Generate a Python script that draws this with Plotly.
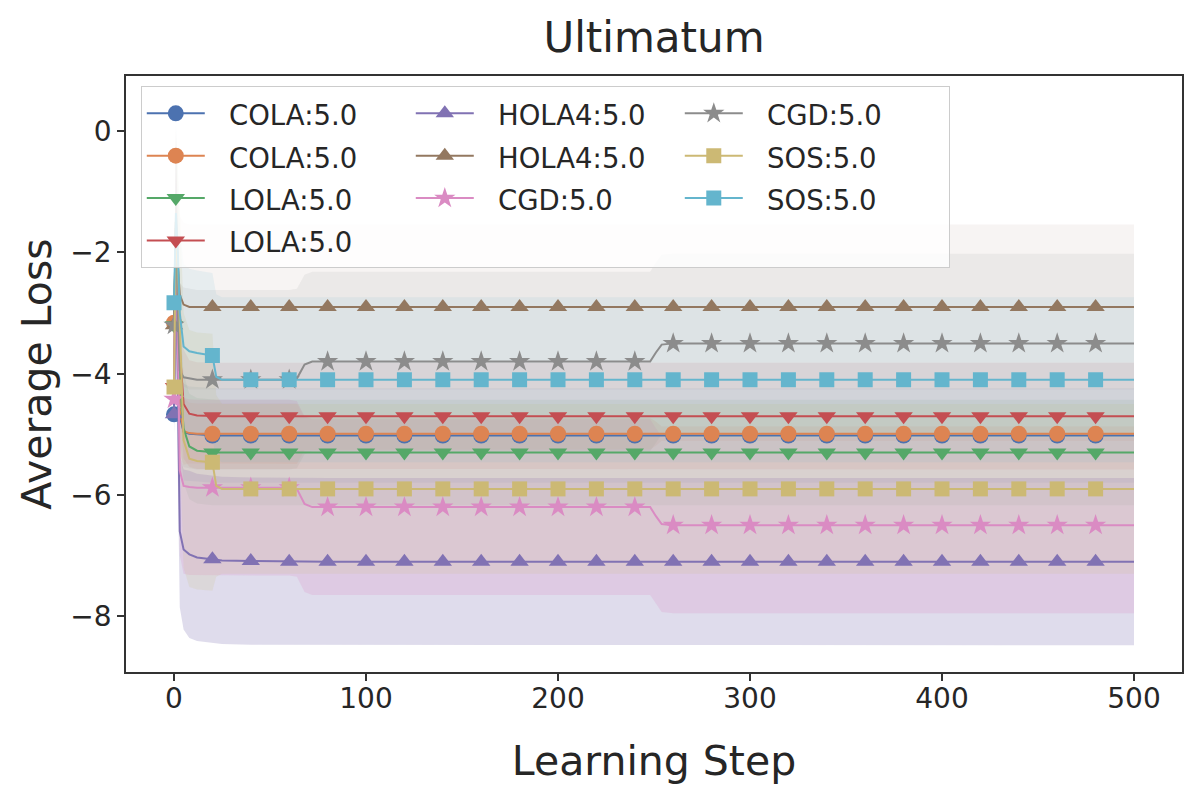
import plotly.graph_objects as go

# Learning steps at which the averaged curves are sampled
STEPS = [0, 1, 2, 3, 5, 8, 12, 20, 22, 25,
         40, 60, 64, 68, 72, 80, 100, 120, 140, 160, 180, 200, 220, 240, 248,
         251, 254, 260, 280, 300, 320, 340, 360, 380, 400, 420, 440, 460, 480, 500]

LABELS = ["COLA:5.0", "COLA:5.0", "LOLA:5.0", "LOLA:5.0", "HOLA4:5.0",
          "HOLA4:5.0", "CGD:5.0", "CGD:5.0", "SOS:5.0", "SOS:5.0"]

# mean loss per step
cola_1_mean = [-4.67, -1.6, -3.2, -4.7, -4.96, -4.99, -5.0, -5.02, -5.02, -5.02,
               -5.02, -5.02, -5.02, -5.02, -5.02, -5.02, -5.02, -5.02, -5.02, -5.02, -5.02, -5.02, -5.02, -5.02, -5.02,
               -5.02, -5.02, -5.02, -5.02, -5.02, -5.02, -5.02, -5.02, -5.02, -5.02, -5.02, -5.02, -5.02, -5.02, -5.02]
cola_2_mean = [-3.16, -1.5, -3.0, -4.6, -4.95, -4.98, -4.99, -4.99, -4.99, -4.99,
               -4.99, -4.99, -4.99, -4.99, -4.99, -4.99, -4.99, -4.99, -4.99, -4.99, -4.99, -4.99, -4.99, -4.99, -4.99,
               -4.99, -4.99, -4.99, -4.99, -4.99, -4.99, -4.99, -4.99, -4.99, -4.99, -4.99, -4.99, -4.99, -4.99, -4.99]
lola_1_mean = [-3.2, -1.7, -2.8, -4.0, -4.9, -5.2, -5.27, -5.3, -5.3, -5.3,
               -5.3, -5.3, -5.3, -5.3, -5.3, -5.3, -5.3, -5.3, -5.3, -5.3, -5.3, -5.3, -5.3, -5.3, -5.3,
               -5.3, -5.3, -5.3, -5.3, -5.3, -5.3, -5.3, -5.3, -5.3, -5.3, -5.3, -5.3, -5.3, -5.3, -5.3]
lola_2_mean = [-4.22, -1.8, -2.6, -3.6, -4.5, -4.66, -4.69, -4.7, -4.7, -4.7,
               -4.7, -4.7, -4.7, -4.7, -4.7, -4.7, -4.7, -4.7, -4.7, -4.7, -4.7, -4.7, -4.7, -4.7, -4.7,
               -4.7, -4.7, -4.7, -4.7, -4.7, -4.7, -4.7, -4.7, -4.7, -4.7, -4.7, -4.7, -4.7, -4.7, -4.7]
hola_1_mean = [-4.67, -1.9, -4.2, -6.6, -6.9, -6.98, -7.03, -7.06, -7.07, -7.08,
               -7.09, -7.1, -7.1, -7.1, -7.1, -7.1, -7.1, -7.1, -7.1, -7.1, -7.1, -7.1, -7.1, -7.1, -7.1,
               -7.1, -7.1, -7.1, -7.1, -7.1, -7.1, -7.1, -7.1, -7.1, -7.1, -7.1, -7.1, -7.1, -7.1, -7.1]
hola_2_mean = [-3.2, -1.5, -2.2, -2.7, -2.86, -2.9, -2.9, -2.9, -2.9, -2.9,
               -2.9, -2.9, -2.9, -2.9, -2.9, -2.9, -2.9, -2.9, -2.9, -2.9, -2.9, -2.9, -2.9, -2.9, -2.9,
               -2.9, -2.9, -2.9, -2.9, -2.9, -2.9, -2.9, -2.9, -2.9, -2.9, -2.9, -2.9, -2.9, -2.9, -2.9]
cgd_1_mean = [-4.42, -1.7, -3.5, -5.6, -5.85, -5.87, -5.88, -5.88, -5.88, -5.88,
              -5.88, -5.88, -5.9, -6.15, -6.2, -6.2, -6.2, -6.2, -6.2, -6.2, -6.2, -6.2, -6.2, -6.2, -6.2,
              -6.35, -6.48, -6.5, -6.5, -6.5, -6.5, -6.5, -6.5, -6.5, -6.5, -6.5, -6.5, -6.5, -6.5, -6.5]
cgd_2_mean = [-3.2, -1.6, -3.0, -3.95, -4.06, -4.08, -4.1, -4.1, -4.1, -4.1,
              -4.1, -4.1, -4.08, -3.85, -3.8, -3.8, -3.8, -3.8, -3.8, -3.8, -3.8, -3.8, -3.8, -3.8, -3.8,
              -3.65, -3.52, -3.5, -3.5, -3.5, -3.5, -3.5, -3.5, -3.5, -3.5, -3.5, -3.5, -3.5, -3.5, -3.5]
sos_1_mean = [-4.22, -1.6, -2.2, -3.2, -5.1, -5.4, -5.44, -5.46, -5.85, -5.9,
              -5.9, -5.9, -5.9, -5.9, -5.9, -5.9, -5.9, -5.9, -5.9, -5.9, -5.9, -5.9, -5.9, -5.9, -5.9,
              -5.9, -5.9, -5.9, -5.9, -5.9, -5.9, -5.9, -5.9, -5.9, -5.9, -5.9, -5.9, -5.9, -5.9, -5.9]
sos_2_mean = [-2.83, -1.35, -2.0, -3.0, -3.55, -3.63, -3.66, -3.7, -4.05, -4.1,
              -4.1, -4.1, -4.1, -4.1, -4.1, -4.1, -4.1, -4.1, -4.1, -4.1, -4.1, -4.1, -4.1, -4.1, -4.1,
              -4.1, -4.1, -4.1, -4.1, -4.1, -4.1, -4.1, -4.1, -4.1, -4.1, -4.1, -4.1, -4.1, -4.1, -4.1]

# standard deviation per step (shaded band)
cola_1_std = [0.35, 1.6, 1.2, 0.9, 0.8, 0.78, 0.78, 0.78, 0.78, 0.78,
              0.78, 0.78, 0.78, 0.78, 0.78, 0.78, 0.78, 0.78, 0.78, 0.78, 0.78, 0.78, 0.78, 0.78, 0.78,
              0.78, 0.78, 0.78, 0.78, 0.78, 0.78, 0.78, 0.78, 0.78, 0.78, 0.78, 0.78, 0.78, 0.78, 0.78]
cola_2_std = [0.3, 1.6, 1.0, 0.7, 0.55, 0.5, 0.5, 0.5, 0.5, 0.5,
              0.5, 0.5, 0.5, 0.27, 0.26, 0.26, 0.26, 0.26, 0.26, 0.26, 0.26, 0.26, 0.26, 0.26, 0.26,
              0.2, 0.12, 0.12, 0.12, 0.12, 0.12, 0.12, 0.12, 0.12, 0.12, 0.12, 0.12, 0.12, 0.12, 0.12]
lola_1_std = [0.3, 1.6, 1.2, 1.0, 0.9, 0.87, 0.87, 0.87, 0.87, 0.87,
              0.87, 0.87, 0.87, 0.87, 0.87, 0.87, 0.87, 0.87, 0.87, 0.87, 0.87, 0.87, 0.87, 0.87, 0.87,
              0.87, 0.87, 0.87, 0.87, 0.87, 0.87, 0.87, 0.87, 0.87, 0.87, 0.87, 0.87, 0.87, 0.87, 0.87]
lola_2_std = [0.3, 1.6, 1.1, 1.0, 0.9, 0.88, 0.88, 0.88, 0.88, 0.88,
              0.88, 0.88, 0.88, 0.88, 0.88, 0.88, 0.88, 0.88, 0.88, 0.88, 0.88, 0.88, 0.88, 0.88, 0.88,
              0.88, 0.88, 0.88, 0.88, 0.88, 0.88, 0.88, 0.88, 0.88, 0.88, 0.88, 0.88, 0.88, 0.88, 0.88]
hola_1_std = [0.3, 1.6, 1.2, 1.25, 1.32, 1.38, 1.38, 1.38, 1.38, 1.38,
              1.38, 1.38, 1.38, 1.38, 1.38, 1.38, 1.38, 1.38, 1.38, 1.38, 1.38, 1.38, 1.38, 1.38, 1.38,
              1.38, 1.38, 1.38, 1.38, 1.38, 1.38, 1.38, 1.38, 1.38, 1.38, 1.38, 1.38, 1.38, 1.38, 1.38]
hola_2_std = [0.3, 1.6, 1.2, 1.3, 1.35, 1.36, 1.36, 1.36, 1.36, 1.36,
              1.36, 1.36, 1.36, 1.36, 1.36, 1.36, 1.36, 1.36, 1.36, 1.36, 1.36, 1.36, 1.36, 1.36, 1.36,
              1.36, 1.36, 1.36, 1.36, 1.36, 1.36, 1.36, 1.36, 1.36, 1.36, 1.36, 1.36, 1.36, 1.36, 1.36]
cgd_1_std = [0.3, 1.6, 1.2, 1.4, 1.45, 1.45, 1.45, 1.45, 1.45, 1.45,
             1.45, 1.45, 1.45, 1.45, 1.45, 1.45, 1.45, 1.45, 1.45, 1.45, 1.45, 1.45, 1.45, 1.45, 1.45,
             1.45, 1.45, 1.45, 1.45, 1.45, 1.45, 1.45, 1.45, 1.45, 1.45, 1.45, 1.45, 1.45, 1.45, 1.45]
cgd_2_std = [0.3, 1.6, 1.3, 1.45, 1.48, 1.48, 1.48, 1.48, 1.48, 1.48,
             1.48, 1.48, 1.48, 1.48, 1.48, 1.48, 1.48, 1.48, 1.48, 1.48, 1.48, 1.48, 1.48, 1.48, 1.48,
             1.48, 1.48, 1.48, 1.48, 1.48, 1.48, 1.48, 1.48, 1.48, 1.48, 1.48, 1.48, 1.48, 1.48, 1.48]
sos_1_std = [0.3, 1.6, 1.6, 2.0, 2.1, 2.12, 2.12, 2.12, 1.5, 1.4,
             1.4, 1.4, 1.4, 1.4, 1.4, 1.4, 1.4, 1.4, 1.4, 1.4, 1.4, 1.4, 1.4, 1.4, 1.4,
             1.4, 1.4, 1.4, 1.4, 1.4, 1.4, 1.4, 1.4, 1.4, 1.4, 1.4, 1.4, 1.4, 1.4, 1.4]
sos_2_std = [0.3, 1.6, 1.4, 1.4, 1.36, 1.36, 1.36, 1.36, 1.36, 1.36,
             1.36, 1.36, 1.36, 1.36, 1.36, 1.36, 1.36, 1.36, 1.36, 1.36, 1.36, 1.36, 1.36, 1.36, 1.36,
             1.36, 1.36, 1.36, 1.36, 1.36, 1.36, 1.36, 1.36, 1.36, 1.36, 1.36, 1.36, 1.36, 1.36, 1.36]

means = [cola_1_mean, cola_2_mean, lola_1_mean, lola_2_mean, hola_1_mean,
         hola_2_mean, cgd_1_mean, cgd_2_mean, sos_1_mean, sos_2_mean]
stds = [cola_1_std, cola_2_std, lola_1_std, lola_2_std, hola_1_std,
        hola_2_std, cgd_1_std, cgd_2_std, sos_1_std, sos_2_std]

# styling (seaborn "deep" palette)
colors = ["#4C72B0", "#DD8452", "#55A868", "#C44E52", "#8172B3",
          "#937860", "#DA8BC3", "#8C8C8C", "#CCB974", "#64B5CD"]
symbols = ["circle", "circle", "triangle-down", "triangle-down", "triangle-up",
           "triangle-up", "star", "star", "square", "square"]
marker_sizes = [16, 16, 16, 16, 16, 16, 16, 16, 15, 15]
band_alpha = [0.1, 0.1, 0.1, 0.1, 0.25, 0.08, 0.22, 0.1, 0.15, 0.1]
legend_order = [0, 4, 7, 1, 5, 8, 2, 6, 9, 3]   # 3 columns, filled row by row


def rgba(hex_color, a):
    h = hex_color.lstrip("#")
    r, g, b = int(h[0:2], 16), int(h[2:4], 16), int(h[4:6], 16)
    return f"rgba({r},{g},{b},{a})"


fig = go.Figure()

# shaded std bands
for i in range(len(means)):
    upper = [m + s for m, s in zip(means[i], stds[i])]
    lower = [m - s for m, s in zip(means[i], stds[i])]
    fig.add_trace(go.Scatter(
        x=STEPS + STEPS[::-1], y=upper + lower[::-1],
        fill="toself", fillcolor=rgba(colors[i], band_alpha[i]),
        line=dict(width=0), mode="lines", hoverinfo="skip", showlegend=False
    ))

# mean lines with a marker every 20 steps
for i in range(len(means)):
    fig.add_trace(go.Scatter(
        x=STEPS, y=means[i], mode="lines",
        line=dict(color=colors[i], width=2), showlegend=False, name=LABELS[i]
    ))
    mx = [s for s in STEPS if s % 20 == 0 and s < 500]
    my = [v for s, v in zip(STEPS, means[i]) if s % 20 == 0 and s < 500]
    fig.add_trace(go.Scatter(
        x=mx, y=my, mode="markers", showlegend=False, name=LABELS[i],
        marker=dict(symbol=symbols[i], size=marker_sizes[i], color=colors[i],
                    line=dict(width=0))
    ))

# legend entries (line + marker); the en/thin space gives matplotlib's gap after the handle
for rank, i in enumerate(legend_order):
    fig.add_trace(go.Scatter(
        x=[None], y=[None], mode="lines+markers",
        name=f"<span style='font-size:27.5px'>\u2002\u2009{LABELS[i]}</span>",
        line=dict(color=colors[i], width=2),
        marker=dict(symbol=symbols[i], size=marker_sizes[i], color=colors[i]),
        legendrank=rank + 1
    ))

axis_style = dict(
    showgrid=False, zeroline=False, showline=True, mirror=True,
    linecolor="#333333", linewidth=1.5, ticks="outside", ticklen=7,
    tickwidth=1.5, tickcolor="#333333",
    tickfont=dict(size=28, color="#262626"),
)

# the page adds an 8px body margin, so the figure is 8px smaller than the window
fig.update_layout(
    width=1192, height=792,
    margin=dict(l=118, r=18, t=68, b=128),
    paper_bgcolor="white", plot_bgcolor="white",
    font=dict(family="DejaVu Sans", color="#262626"),
    title=dict(text="Ultimatum", font=dict(size=42, color="#262626"),
               x=0.5, xref="paper", y=1 - 29 / 792, yanchor="middle"),
    legend=dict(
        orientation="h", x=0.014, y=0.983, xanchor="left", yanchor="top",
        entrywidth=196, itemwidth=58,
        bgcolor="rgba(255,255,255,0.8)", bordercolor="#cccccc", borderwidth=1,
        font=dict(size=30.3, color="#262626"),
    ),
    xaxis=dict(axis_style, range=[-25, 525], tickvals=[0, 100, 200, 300, 400, 500],
               ticklabelstandoff=-6,
               title=dict(text="Learning Step", font=dict(size=41), standoff=32)),
    yaxis=dict(axis_style, range=[-8.92, 0.91], tickvals=[0, -2, -4, -6, -8],
               title=dict(text="Average Loss", font=dict(size=41), standoff=6)),
)

fig.write_html("out.html")
